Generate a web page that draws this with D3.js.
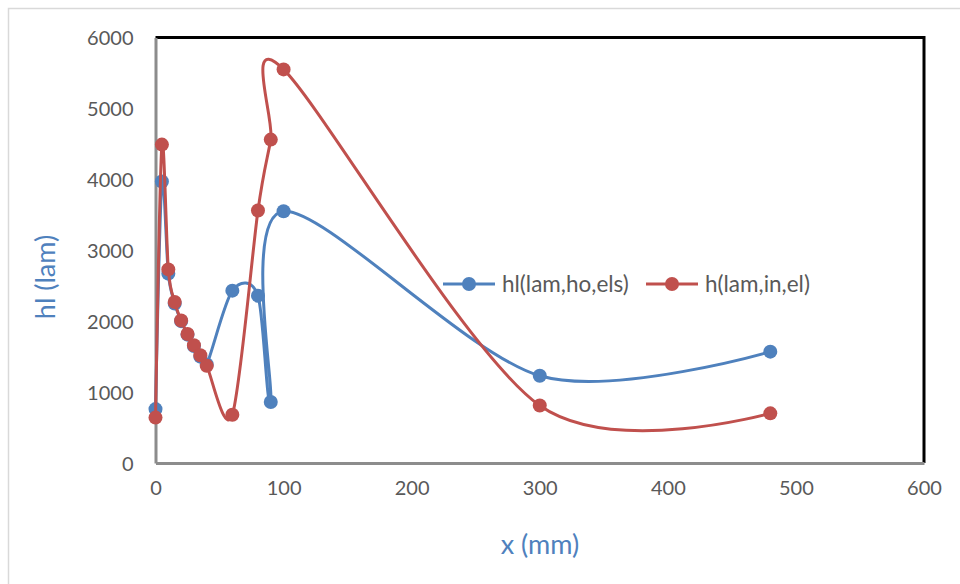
<!DOCTYPE html>
<html>
<head>
<meta charset="utf-8">
<script src="https://cdn.jsdelivr.net/npm/d3@7/dist/d3.min.js"></script>
<style>
  html, body { margin: 0; padding: 0; background: #fff; }
  svg { display: block; font-family: Lato, "Liberation Sans", sans-serif; }
</style>
</head>
<body>
<svg id="chart" width="960" height="584"></svg>
<script>
// Sample positions along x (mm) and the two measured profiles
const xBlue = [0, 5, 10, 15, 20, 25, 30, 35, 40, 60, 80, 90, 100, 300, 480];
const hlHoEls = [760, 3970, 2670, 2250, 2000, 1810, 1650, 1500, 1390, 2430, 2360, 860, 3550, 1230, 1570];

const xRed = [0, 5, 10, 15, 20, 25, 30, 35, 40, 60, 80, 90, 100, 300, 480];
const hLamInEl = [640, 4490, 2730, 2270, 2010, 1820, 1660, 1520, 1370, 680, 3560, 4560, 5550, 810, 700];

const seriesNames = ["hl(lam,ho,els)", "h(lam,in,el)"];
const xTicks = [0, 100, 200, 300, 400, 500, 600];
const yTicks = [0, 1000, 2000, 3000, 4000, 5000, 6000];
const xTitle = "x (mm)";
const yTitle = "hl (lam)";

const colors = ["#4F81BD", "#C0504D"];
const svg = d3.select("#chart");

// outer chart frame
svg.append("path")
  .attr("d", "M8.5,584 L8.5,8.5 L960,8.5")
  .attr("fill", "none").attr("stroke", "#d9d9d9").attr("stroke-width", 1.5);

const plot = { left: 155.5, right: 924, top: 37.5, bottom: 463 };
const x = d3.scaleLinear().domain([0, 600]).range([plot.left, plot.right]);
const y = d3.scaleLinear().domain([0, 6000]).range([plot.bottom, plot.top]);

// plot area frame: black top/right, grey axes left/bottom
svg.append("path")
  .attr("d", `M${plot.left},${plot.top} L${plot.right},${plot.top} L${plot.right},${plot.bottom}`)
  .attr("fill", "none").attr("stroke", "#000").attr("stroke-width", 3);

const xAxis = d3.axisBottom(x).tickValues(xTicks).tickSize(0).tickPadding(18).tickFormat(d3.format("d"));
const yAxis = d3.axisLeft(y).tickValues(yTicks).tickSize(0).tickPadding(22).tickFormat(d3.format("d"));

const gx = svg.append("g").attr("transform", `translate(0,${plot.bottom})`).call(xAxis);
const gy = svg.append("g").attr("transform", `translate(${plot.left},0)`).call(yAxis);
[gx, gy].forEach(g => {
  g.select(".domain").attr("stroke", "#8c8c8c").attr("stroke-width", 3);
  g.selectAll("text").attr("fill", "#595959").style("font-size", "20px")
    .style("font-family", "Lato, 'Liberation Sans', sans-serif");
});
gy.selectAll("text").attr("dy", "0.35em");

// series
const seriesData = [
  xBlue.map((d, i) => [d, hlHoEls[i]]),
  xRed.map((d, i) => [d, hLamInEl[i]])
];
const line = d3.line().x(d => x(d[0])).y(d => y(d[1])).curve(d3.curveCardinal.tension(0.1));

seriesData.forEach((pts, s) => {
  const g = svg.append("g");
  g.append("path").attr("d", line(pts)).attr("fill", "none")
    .attr("stroke", colors[s]).attr("stroke-width", 3).attr("stroke-linejoin", "round");
  g.selectAll("circle").data(pts).join("circle")
    .attr("cx", d => x(d[0])).attr("cy", d => y(d[1])).attr("r", 7)
    .attr("fill", colors[s]);
});

// legend
const legendItems = [{ x0: 443, tx: 502 }, { x0: 646, tx: 705 }];
const ly = 284;
legendItems.forEach((it, i) => {
  const g = svg.append("g");
  g.append("line").attr("x1", it.x0).attr("x2", it.x0 + 52).attr("y1", ly).attr("y2", ly)
    .attr("stroke", colors[i]).attr("stroke-width", 3);
  g.append("circle").attr("cx", it.x0 + 26).attr("cy", ly).attr("r", 7).attr("fill", colors[i]);
  g.append("text").attr("x", it.tx).attr("y", ly).attr("dy", "0.35em")
    .attr("fill", "#595959").style("font-size", "22.5px").text(seriesNames[i]);
});

// axis titles
svg.append("text").attr("x", 540).attr("y", 545).attr("dy", "0.35em")
  .attr("text-anchor", "middle").attr("fill", "#4F81BD").style("font-size", "27px").text(xTitle);
svg.append("text").attr("transform", "translate(46,277) rotate(-90)").attr("dy", "0.35em")
  .attr("text-anchor", "middle").attr("fill", "#4F81BD").style("font-size", "27px").text(yTitle);
</script>
</body>
</html>
